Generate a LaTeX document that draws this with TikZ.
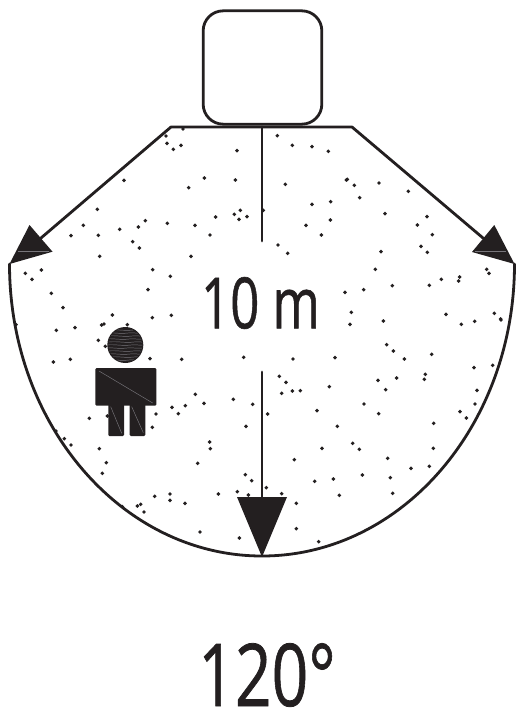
\documentclass[tikz,border=0pt]{standalone}
\usepackage{fontspec}
\setmainfont[FakeBold=0.9]{Open Sans}
\definecolor{ink}{HTML}{231F20}
\definecolor{sheen}{HTML}{77757A}
\tikzset{
  outline/.style={draw=ink,line width=2.1pt,line cap=round,line join=round},
  head/.style={fill=ink,draw=none},
  sheenline/.style={draw=sheen,line width=.35pt},
  solid part/.style={fill=ink,draw=none,rounded corners=.9pt},
  speck/.style={fill=ink,draw=none},
  big/.style={text=ink,inner sep=0pt,anchor=center}
}
\newcommand{\specks}[3]{\foreach \a/\b in {#3} {\fill[speck] ({#1+\a/3},{#2+\b/3}) circle (1.95);}}
\begin{document}
\begin{tikzpicture}[x=.75pt,y=-.75pt]
\useasboundingbox (0,0) rectangle (516,713);
\fill[white] (0,0) rectangle (516,713);
% specks
\specks{0}{120}{498/48,501/70,520/88,543/76,711/92,372/181,613/174,706/180,566/203,292/268,250/316,213/347,295/346,359/328,415/321,436/302,502/310,585/316,647/291,630/345,703/283,721/271,717/298,741/290,398/365,418/384,299/409,573/409,458/449,511/469,444/509,124/450,76/460,96/478,154/520,189/563,337/585,457/593,514/586,549/27}
\specks{260}{120}{52/47,97/76,156/80,205/94,76/193,262/178,259/180,283/196,357/189,445/214,299/233,156/253,212/245,211/300,138/316,184/345,375/281,501/290,472/315,517/344,483/379,502/397,54/375,83/400,363/395,346/448,255/517,311/509,397/497,508/496,544/478,599/471,596/483,680/448,687/460,274/577,558/583,703/580,722/597,10/271}
\specks{0}{320}{48/14,169/31,225/23,305/15,312/12,382/14,295/61,316/79,160/126,211/118,450/116,545/118,731/112,586/223,612/250,700/238,758/253,516/262,556/257,535/281,468/282,457/322,268/295,322/288,738/319,168/333,193/356,213/375,298/386,319/428,307/460,629/366,631/386,593/430,736/464,755/482,655/522,712/515,745/525,510/522,510/541,464/529,555/550,422/553,412/558,432/576,367/560,600/636,718/654}
\specks{260}{320}{270/13,370/3,604/13,644/4,723/0,380/74,400/93,433/117,515/103,99/117,225/113,58/169,78/187,65/220,97/213,121/212,208/200,354/181,377/209,410/174,496/163,493/178,642/143,698/136,651/211,645/252,600/275,619/294,312/252,356/281,521/310,23/282,171/272,232/319,278/370,298/388,186/385,520/385,103/419,383/415,453/445,508/439,391/473,307/465,220/477,164/484,238/526,398/520,19/503,65/521,109/550,109/626,176/665}
% named points
\coordinate (cl) at (171,127);
\coordinate (cr) at (352,127);
\coordinate (cm) at (262,127);
\coordinate (tipl) at (9.5,264);
\coordinate (tipr) at (514.5,264);
\coordinate (tipb) at (262,557);
\coordinate (tl) at (262,241);
\coordinate (tt) at (262,372);
\coordinate (hb) at (262,498);
\coordinate (hl) at (41,238);
\coordinate (hr) at (483,238);
% sensor box
\node[outline,fill=white,rounded corners=15pt,minimum width=89pt,minimum height=85pt,inner sep=0pt] (box) at (262.5,67.5) {};
% lines
\draw[outline] (hl) -- (cl) -- (cr) -- (hr);
\draw[outline] (cm) -- (tl);
\draw[outline] (tt) -- (hb);
\draw[outline] (tipl) arc[start angle=180,end angle=0,x radius=252.5,y radius=292];
% heads
\fill[head] (tipl) -- (29.5,225) -- (52.5,251.7) -- cycle;
\fill[head] (tipr) -- (494.3,225) -- (472,252) -- cycle;
\fill[head] (tipb) -- (237,497) -- (287,497) -- cycle;
\draw[sheenline] (18.3,251.3) -- (49.3,251.3);
\draw[sheenline] (475,251.3) -- (506,251.3);
% person
\fill[ink] (125.3,345) circle (18);
\begin{scope}
\clip (125.3,345) circle (17);
\foreach \yy/\sh in {330/2,333/-3,336/1,339/-2,342/3,345/0,348/-4,351/2,354/-1,357/3,360/-2}
  \draw[sheenline] (106+\sh,\yy) .. controls (115+\sh,\yy-1) and (122+\sh,\yy+1.2) .. (131+\sh,\yy) .. controls (136+\sh,\yy-.8) and (140+\sh,\yy+.8) .. (146+\sh,\yy);
\end{scope}
\fill[solid part] (95.3,368) rectangle (156.3,405.7);
\fill[solid part] (108.3,404) rectangle (124,436);
\fill[solid part] (129.7,404) rectangle (145.3,436);
\draw[sheenline] (99,371) -- (152.7,403);
\draw[sheenline] (110.7,406.7) -- (121.7,433.3);
\draw[sheenline] (131.7,406.7) -- (143.3,432.7);
% labels
\node[big,xscale=.72] (dist) at (260.5,303) {\fontsize{53pt}{53pt}\selectfont 10 m};
\node[big,xscale=.74] (angle) at (267,675) {\fontsize{65pt}{65pt}\selectfont 120°};
\end{tikzpicture}
\end{document}
